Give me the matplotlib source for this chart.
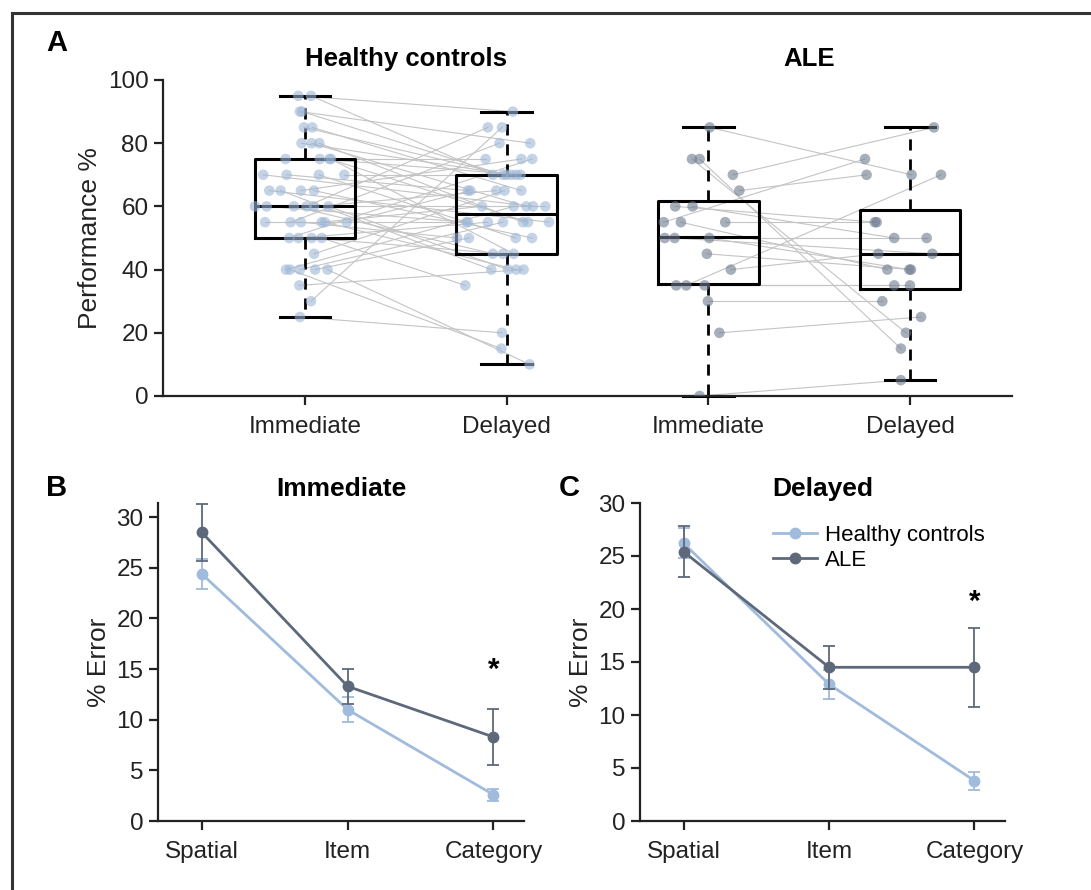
import matplotlib
matplotlib.use("Agg")
import matplotlib.pyplot as plt
from matplotlib.lines import Line2D
import numpy as np

plt.rcParams['font.family'] = ['Liberation Sans', 'DejaVu Sans']

# ---------------- Panel A data ----------------
groups = ["Healthy controls", "ALE"]
sessions = ["Immediate", "Delayed"]

# per-subject paired scores (immediate, delayed) and horizontal jitter
hc_imm = [95, 95, 90, 90, 85, 85, 80, 80, 80, 75, 75, 75, 75, 70, 70, 70, 70, 65, 65, 65, 65,
          60, 60, 60, 60, 60, 60, 55, 55, 55, 55, 55, 55, 50, 50, 50, 50, 45, 40, 40, 40, 40, 40,
          35, 30, 25]
hc_imm_jit = [-0.033, 0.030, -0.025, -0.015, -0.005, 0.036, -0.017, 0.033, 0.071, -0.096, 0.074,
              0.121, 0.129, -0.207, -0.091, 0.069, 0.195, -0.177, -0.121, -0.020, 0.045, -0.248,
              -0.190, -0.055, 0.008, 0.045, 0.116, -0.198, -0.071, -0.020, 0.083, 0.099, 0.207,
              -0.078, -0.033, 0.033, 0.083, 0.045, -0.094, -0.074, -0.025, 0.050, 0.112, -0.028,
              0.030, -0.025]
hc_del = [90, 70, 80, 70, 70, 65, 70, 60, 55, 75, 70, 55, 45, 60, 65, 50, 70, 55, 40, 75, 50,
          60, 55, 45, 85, 65, 40, 55, 80, 50, 60, 40, 65, 75, 55, 45, 35, 65, 60, 15, 55, 50, 10,
          40, 85, 20]
hc_del_jit = [0.031, -0.068, 0.117, -0.018, 0.000, 0.073, 0.023, 0.098, 0.081, -0.104, 0.069,
              0.106, 0.035, 0.131, -0.192, 0.045, 0.048, 0.210, -0.076, 0.073, 0.126, 0.192,
              -0.200, -0.068, -0.093, -0.051, 0.007, -0.192, -0.035, -0.246, -0.122, 0.048,
              -0.180, 0.127, -0.093, -0.018, -0.205, -0.010, 0.035, -0.026, -0.018, -0.187,
              0.114, 0.084, -0.023, -0.023]

ale_imm = [85, 75, 75, 70, 65, 60, 60, 55, 55, 55, 50, 50, 50, 45, 40, 35, 35, 35, 30, 20, 0]
ale_imm_jit = [0.007, -0.081, -0.043, 0.122, 0.154, -0.164, -0.078, -0.221, -0.136, 0.084,
               -0.216, -0.167, 0.005, -0.007, 0.112, -0.159, -0.109, -0.018, -0.002, 0.055, -0.043]
ale_del = [70, 20, 15, 85, 70, 55, 50, 75, 40, 55, 50, 45, 40, 40, 45, 35, 70, 35, 30, 25, 5]
ale_del_jit = [0.008, -0.020, -0.045, 0.119, -0.215, -0.165, -0.078, -0.223, -0.112, -0.174,
               0.083, 0.111, -0.003, 0.005, -0.157, -0.078, 0.154, 0.000, -0.137, 0.055, -0.045]

# box statistics (Q1, median, Q3, whisker low, whisker high)
box_q1 = [50, 45, 35.3, 34]
box_med = [60, 57.5, 50.2, 45]
box_q3 = [75, 70, 61.6, 59]
box_lo = [25, 10, 0, 5]
box_hi = [95, 90, 85, 85]

# ---------------- Panels B/C data ----------------
conditions = ["Spatial", "Item", "Category"]
imm_hc = [24.4, 11.0, 2.6]
imm_hc_err = [1.5, 1.2, 0.6]
imm_ale = [28.5, 13.3, 8.3]
imm_ale_err = [2.8, 1.75, 2.8]
del_hc = [26.2, 12.9, 3.8]
del_hc_err = [1.4, 1.35, 0.85]
del_ale = [25.4, 14.5, 14.5]
del_ale_err = [2.4, 2.0, 3.7]

# ---------------- styling ----------------
HC_PT = '#9db6d6'
ALE_PT = '#6c7a8e'
HC_LINE = '#a0bbdc'
ALE_LINE = '#5d697b'
TICK_FS = 17.5
LABEL_FS = 19
TITLE_FS = 18.5
LETTER_FS = 21

fig = plt.figure(figsize=(10.91, 8.90), dpi=100)

# frame lines (top and left)
fig.add_artist(Line2D([12 / 1091, 1.0], [1 - 13 / 890, 1 - 13 / 890], color='#333333', lw=2.2))
fig.add_artist(Line2D([12 / 1091, 12 / 1091], [0.0, 1 - 13 / 890], color='#333333', lw=2.2))

def style_axes(ax):
    for s in ['top', 'right']:
        ax.spines[s].set_visible(False)
    for s in ['left', 'bottom']:
        ax.spines[s].set_linewidth(1.6)
        ax.spines[s].set_color('#222222')
    ax.tick_params(direction='out', length=6.5, width=1.6, labelsize=TICK_FS, colors='#222222',
                   labelcolor='#222222', pad=4)

# ---------------- Panel A ----------------
axA = fig.add_axes([163 / 1091, 1 - 396 / 890, (1012 - 163) / 1091, (396 - 80) / 890])
style_axes(axA)
positions = [1, 2, 3, 4]

stats = []
for i in range(4):
    stats.append(dict(med=box_med[i], q1=box_q1[i], q3=box_q3[i],
                      whislo=box_lo[i], whishi=box_hi[i], fliers=[]))
axA.bxp(stats, positions=positions, widths=0.5, capwidths=0.25, showfliers=False,
        boxprops=dict(color='black', lw=2.2),
        medianprops=dict(color='black', lw=2.2),
        whiskerprops=dict(color='black', lw=2.0, linestyle=(0, (4, 3.2))),
        capprops=dict(color='black', lw=2.2), zorder=2)

# paired lines and points
for imm, ij, dl, dj, col, p0 in [(hc_imm, hc_imm_jit, hc_del, hc_del_jit, HC_PT, 1),
                                 (ale_imm, ale_imm_jit, ale_del, ale_del_jit, ALE_PT, 3)]:
    for a, aj, b, bj in zip(imm, ij, dl, dj):
        axA.plot([p0 + aj, p0 + 1 + bj], [a, b], color='#c4c4c4', lw=0.8, zorder=1)
    axA.scatter(np.array(ij) + p0, imm, s=58, color=col, alpha=0.6, edgecolors='none', zorder=3)
    axA.scatter(np.array(dj) + p0 + 1, dl, s=58, color=col, alpha=0.6, edgecolors='none', zorder=3)

axA.set_xlim(0.296, 4.506)
axA.set_ylim(0, 100)
axA.set_yticks([0, 20, 40, 60, 80, 100])
axA.set_xticks(positions)
axA.set_xticklabels(sessions * 2)
axA.tick_params(axis='x', pad=8)
axA.set_ylabel("Performance %", fontsize=LABEL_FS, labelpad=4, color='#222222')
axA.text(1.5, 1.03, groups[0], transform=axA.get_xaxis_transform(), ha='center', va='bottom',
         fontsize=TITLE_FS, fontweight='bold')
axA.text(3.5, 1.03, groups[1], transform=axA.get_xaxis_transform(), ha='center', va='bottom',
         fontsize=TITLE_FS, fontweight='bold')
for a in axA.get_children():
    if isinstance(a, Line2D):
        a.set_clip_on(False)

# ---------------- Panels B and C ----------------
def line_panel(rect, hc, hc_err, ale, ale_err, ytop, title, star_y, legend=False):
    ax = fig.add_axes(rect)
    style_axes(ax)
    x = np.arange(len(conditions))
    ax.errorbar(x, hc, yerr=hc_err, color=HC_LINE, lw=2.0, marker='o', ms=7.5,
                elinewidth=1.3, capsize=4.5, capthick=1.3, label="Healthy controls", zorder=3)
    ax.errorbar(x, ale, yerr=ale_err, color=ALE_LINE, lw=2.0, marker='o', ms=7.5,
                elinewidth=1.3, capsize=4.5, capthick=1.3, label="ALE", zorder=4)
    ax.set_xlim(-0.3, 2.21)
    ax.set_ylim(0, ytop)
    ax.set_yticks([0, 5, 10, 15, 20, 25, 30])
    ax.set_xticks(x)
    ax.set_xticklabels(conditions)
    ax.tick_params(axis='x', pad=8)
    ax.set_ylabel("% Error", fontsize=LABEL_FS, labelpad=4, color='#222222')
    ax.text(2, star_y, "*", ha='center', va='center', fontsize=TICK_FS + 4, fontweight='bold')
    ax.text(0.5, 1.005, title, transform=ax.transAxes, ha='center', va='bottom',
            fontsize=TITLE_FS + 0.5, fontweight='bold')
    if legend:
        h, l = ax.get_legend_handles_labels()
        h = [hh[0] for hh in h]
        ax.legend(h, l, loc='upper left', bbox_to_anchor=(0.34, 0.96), frameon=False,
                  fontsize=TICK_FS - 1.5, handlelength=2.0, handletextpad=0.35, borderaxespad=0,
                  labelspacing=0.2)
    return ax

axB = line_panel([158 / 1091, 1 - 821 / 890, (524 - 158) / 1091, (821 - 503) / 890],
                 imm_hc, imm_hc_err, imm_ale, imm_ale_err, 31.4, "Immediate", 14.9)
axC = line_panel([640 / 1091, 1 - 821 / 890, (1005 - 640) / 1091, (821 - 503) / 890],
                 del_hc, del_hc_err, del_ale, del_ale_err, 30.0, "Delayed", 20.7, legend=True)

# panel letters
fig.text(57 / 1091, 1 - 43 / 890, "A", fontsize=LETTER_FS, fontweight='bold', ha='center', va='center')
fig.text(57 / 1091, 1 - 488 / 890, "B", fontsize=LETTER_FS, fontweight='bold', ha='center', va='center')
fig.text(569 / 1091, 1 - 488 / 890, "C", fontsize=LETTER_FS, fontweight='bold', ha='center', va='center')

fig.savefig("out.png", dpi=100)
